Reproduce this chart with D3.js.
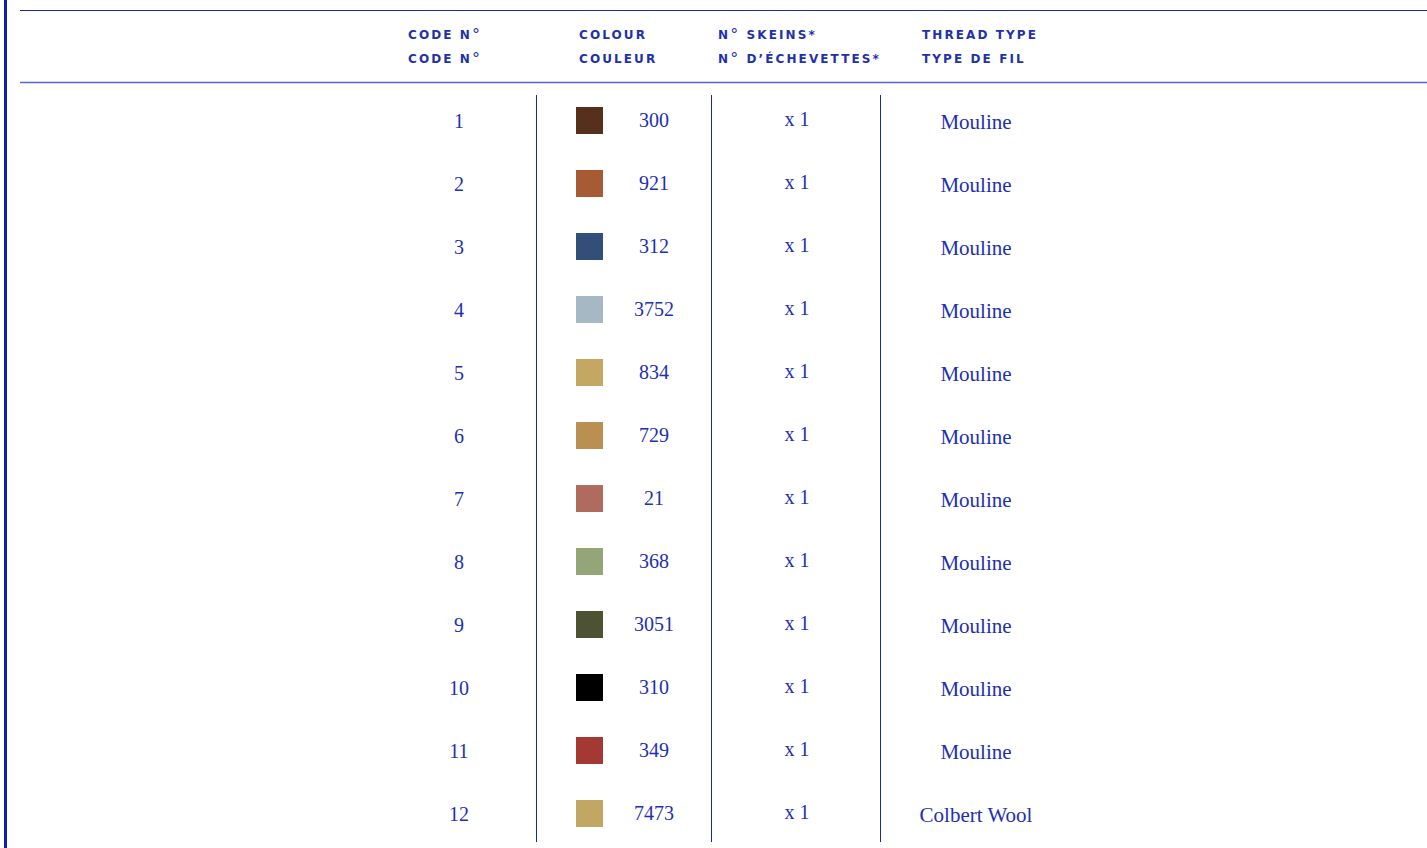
<!DOCTYPE html>
<html lang="en">
<head>
    <meta charset="UTF-8">
    <title>Thread key</title>
    <style>
        body {
            margin: 0;
            padding: 0;
            background-color: #fff;
        }
        .head {
            font-family: 'DejaVu Sans', sans-serif;
            font-size: 12px;
            font-weight: bold;
            letter-spacing: 2.1px;
            fill: #1f31aa;
        }
        .cell {
            font-family: 'Liberation Serif', serif;
            font-size: 20px;
            fill: #1d2fb4;
        }
        .cell.type {
            font-size: 21px;
        }
    </style>
</head>
<body>
    <svg id="chart"></svg>

    <script src="https://d3js.org/d3.v7.min.js"></script>
    <script>
        // Data
        const codes = [1, 2, 3, 4, 5, 6, 7, 8, 9, 10, 11, 12];
        const colourNumbers = ['300', '921', '312', '3752', '834', '729', '21', '368', '3051', '310', '349', '7473'];
        const swatches = ['#56301d', '#a65b34', '#324f79', '#a6b8c4', '#c4a763', '#b98f52', '#b06b5f', '#94a678', '#4d5232', '#000000', '#a43833', '#c2a663'];
        const skeins = ['x 1', 'x 1', 'x 1', 'x 1', 'x 1', 'x 1', 'x 1', 'x 1', 'x 1', 'x 1', 'x 1', 'x 1'];
        const threadTypes = ['Mouline', 'Mouline', 'Mouline', 'Mouline', 'Mouline', 'Mouline', 'Mouline', 'Mouline', 'Mouline', 'Mouline', 'Mouline', 'Colbert Wool'];
        const headers = [
            ['CODE N°', 'CODE N°'],
            ['COLOUR', 'COULEUR'],
            ['N° SKEINS*', 'N° D\u2019ÉCHEVETTES*'],
            ['THREAD TYPE', 'TYPE DE FIL']
        ];

        const width = 1427;
        const height = 848;
        const blue = '#1a2aa6';

        const svg = d3.select('#chart')
            .attr('width', width)
            .attr('height', height);

        // Row positions
        const y = d3.scalePoint()
            .domain(codes)
            .range([121, 814]);

        // Header text left edges
        const headX = [408, 579, 718, 922];

        // Frame
        svg.append('line')
            .attr('x1', 5.5).attr('x2', 5.5)
            .attr('y1', 0).attr('y2', height)
            .attr('stroke', '#0f20a4').attr('stroke-width', 3);

        svg.append('line')
            .attr('x1', 20).attr('x2', width)
            .attr('y1', 10.5).attr('y2', 10.5)
            .attr('stroke', blue).attr('stroke-width', 1);

        svg.append('line')
            .attr('x1', 20).attr('x2', width)
            .attr('y1', 82.5).attr('y2', 82.5)
            .attr('stroke', '#5566c4').attr('stroke-width', 1.3);

        // Column dividers
        [536.5, 711.5, 880.5].forEach(x => {
            svg.append('line')
                .attr('x1', x).attr('x2', x)
                .attr('y1', 95).attr('y2', 842)
                .attr('stroke', blue).attr('stroke-width', 1);
        });

        // Headers (degree sign drawn a little larger, as a raised "o")
        headers.forEach((pair, i) => {
            pair.forEach((t, j) => {
                const txt = svg.append('text')
                    .attr('class', 'head')
                    .attr('x', headX[i])
                    .attr('y', 39 + j * 24);
                t.split('°').forEach((part, k) => {
                    if (k > 0) {
                        txt.append('tspan')
                            .style('font-size', '16px')
                            .style('font-weight', 'normal')
                            .attr('dy', 1)
                            .text('°');
                        txt.append('tspan').attr('dy', -1).text(part);
                    } else {
                        txt.append('tspan').text(part);
                    }
                });
            });
        });

        // Rows
        const rows = svg.selectAll('.row')
            .data(codes)
            .enter()
            .append('g')
            .attr('class', 'row')
            .attr('transform', d => `translate(0,${y(d)})`);

        rows.append('text')
            .attr('class', 'cell')
            .attr('x', 459)
            .attr('y', 7)
            .attr('text-anchor', 'middle')
            .text(d => d);

        rows.append('rect')
            .attr('x', 576)
            .attr('y', -14)
            .attr('width', 27)
            .attr('height', 27)
            .attr('fill', (d, i) => swatches[i]);

        rows.append('text')
            .attr('class', 'cell')
            .attr('x', 654)
            .attr('y', 6)
            .attr('text-anchor', 'middle')
            .text((d, i) => colourNumbers[i]);

        rows.append('text')
            .attr('class', 'cell')
            .attr('x', 797)
            .attr('y', 5)
            .attr('text-anchor', 'middle')
            .text((d, i) => skeins[i]);

        rows.append('text')
            .attr('class', 'cell type')
            .attr('x', 976)
            .attr('y', 8)
            .attr('text-anchor', 'middle')
            .text((d, i) => threadTypes[i]);
    </script>
</body>
</html>
